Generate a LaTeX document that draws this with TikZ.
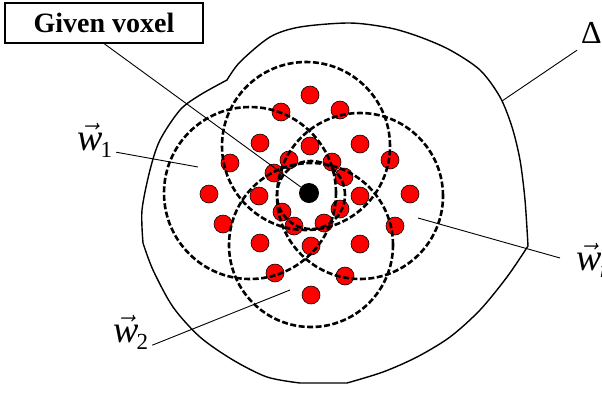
\RequirePackage{fix-cm}
\documentclass[tikz,border=0pt]{standalone}
\usepackage{fontspec}
\setmainfont{Liberation Serif}
\usetikzlibrary{positioning}

\tikzset{
  voxel/.style={circle, draw=black, line width=0.6pt, fill=red, minimum size=18pt, inner sep=0pt},
  centrevoxel/.style={circle, fill=black, minimum size=20pt, inner sep=0pt},
  window/.style={line width=2.6pt, dash pattern=on 6pt off 2.5pt},
  leader/.style={line width=0.9pt},
  lbl/.style={font=\fontsize{34}{34}\selectfont, inner sep=0pt},
}
\newcommand{\wlabel}[1]{$\vec{\hbox{\fontsize{38}{38}\selectfont\itshape w}}$\kern-2pt\raisebox{-7pt}{\fontsize{23}{23}\selectfont #1}}

\begin{document}
\begin{tikzpicture}[x=1pt, y=-1pt]
  \useasboundingbox (0,0) rectangle (602,392);

  % Outer region Delta
  \draw[line width=1.4pt]
    plot[smooth] coordinates {(143,243) (142,210) (150,170) (160,140) (180,110) (200,95) (227,80)}
    -- plot[smooth] coordinates {(227,80) (240,62) (270,37) (300,27) (350,23) (390,28) (420,37) (450,50) (480,70) (500,97) (512,127) (520,160) (525,200) (528,246)}
    -- plot[smooth] coordinates {(528,246) (507,277) (480,310) (450,337) (417,357) (383,372) (347,383)}
    -- (300,383)
    -- plot[smooth] coordinates {(300,383) (267,377) (233,360) (200,337) (173,307) (153,270) (143,243)};

  % Voxels in the neighbourhood
  \foreach \p [count=\i] in {(310,95), (281,112), (340,110), (260,143), (310,146), (360,144),
      (230,163), (289,160), (332,162), (390,160), (274,173), (344,177), (209,194), (259,196),
      (360,196), (410,194), (282,212), (340,209), (223,224), (294,226), (324,223), (395,226),
      (260,243), (311,246), (360,244), (275,273), (345,276), (311,295)}{
    \node[voxel] (d\i) at \p {};
  }

  % Search windows
  \draw[window] (250,193) circle (86pt);
  \draw[window] (306,146) circle (84pt);
  \draw[window] (360,196) circle (83pt);
  \draw[window] (311,245) circle (82pt);
  \draw[window] (311,195) circle (34pt);

  % Labels
  \node[draw, line width=1.1pt, minimum width=198pt, minimum height=40pt, inner sep=0pt,
        font=\fontsize{28}{28}\selectfont\bfseries] (given) at (104,23) {Given voxel};
  \node[lbl, anchor=base west] (w1) at (77,150) {\wlabel{1}};
  \node[lbl, anchor=base west] (w2) at (113,342) {\wlabel{2}};
  \node[lbl, anchor=base west] (wi) at (576,270) {\wlabel{\itshape i}};
  \node[lbl, font=\fontsize{32}{32}\selectfont, anchor=base west] (delta) at (581,43) {Δ};

  \coordinate (w1end) at (198,167);
  \coordinate (w2end) at (290,290);
  \coordinate (wiend) at (418,218);
  \coordinate (deltaend) at (502,101);

  % The given voxel
  \node[centrevoxel] (given voxel) at (309,193) {};

  % Leaders
  \draw[leader] (given.south) -- (given voxel);
  \draw[leader] ([xshift=4pt, yshift=5pt]w1.south east) -- (w1end);
  \draw[leader] ([xshift=4pt, yshift=4pt]w2.south east) -- (w2end);
  \draw[leader] ([xshift=-16pt, yshift=2pt]wi.west) -- (wiend);
  \draw[leader] ([xshift=-4pt, yshift=-7pt]delta.south west) -- (deltaend);
\end{tikzpicture}
\end{document}
